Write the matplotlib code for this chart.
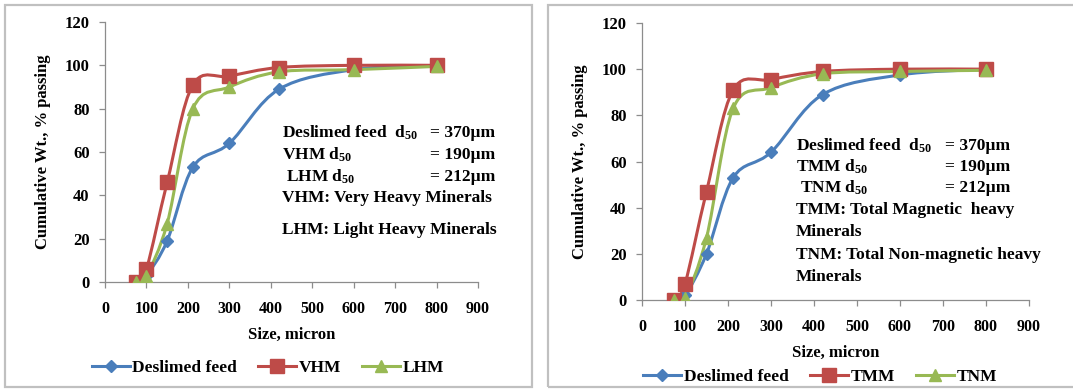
import numpy as np
import matplotlib
matplotlib.use("Agg")
import matplotlib.pyplot as plt
from matplotlib.path import Path
from matplotlib.patches import PathPatch, Rectangle
from matplotlib.lines import Line2D

plt.rcParams["font.family"] = "Liberation Serif"
plt.rcParams["font.weight"] = "bold"
plt.rcParams["mathtext.fontset"] = "custom"
plt.rcParams["mathtext.rm"] = "Liberation Serif:bold"
plt.rcParams["mathtext.it"] = "Liberation Serif:bold"
plt.rcParams["mathtext.bf"] = "Liberation Serif:bold"

W, H = 1073, 391

# sieve sizes (micron)
size = [75, 100, 150, 212, 300, 420, 600, 800]

# left panel
feed_l = [0, 3, 19, 53, 64, 89, 98, 100]
vhm = [0, 6, 46, 91, 95, 99, 100, 100]
lhm = [0, 3, 27, 80, 90, 97, 98, 99.5]

# right panel
feed_r = [0, 2, 20, 53, 64, 89, 97.5, 100]
tmm = [0, 7, 47, 91, 95.5, 99, 100, 100]
tnm = [0, 1, 27, 83, 92, 98, 99, 99.5]

left_names = ["Deslimed feed", "VHM", "LHM"]
right_names = ["Deslimed feed", "TMM", "TNM"]

COLORS = ["#4a7ebb", "#be4b48", "#98b954"]
MARKERS = ["D", "s", "^"]
MSIZES = [6, 9.5, 8]


def smooth_path(x, y):
    # Excel-style smoothed line: cubic Bezier segments through the data points
    x = np.asarray(x, float)
    y = np.asarray(y, float)
    n = len(x)
    verts = [(x[0], y[0])]
    codes = [Path.MOVETO]
    for i in range(n - 1):
        p0 = np.array([x[max(i - 1, 0)], y[max(i - 1, 0)]])
        p1 = np.array([x[i], y[i]])
        p2 = np.array([x[i + 1], y[i + 1]])
        p3 = np.array([x[min(i + 2, n - 1)], y[min(i + 2, n - 1)]])
        c1 = p1 + (p2 - p0) / 6.0
        c2 = p2 - (p3 - p1) / 6.0
        verts += [tuple(c1), tuple(c2), tuple(p2)]
        codes += [Path.CURVE4] * 3
    return Path(verts, codes)


def px_ax(fig, x0, y0, x1, y1):
    return fig.add_axes([x0 / W, 1 - y1 / H, (x1 - x0) / W, (y1 - y0) / H])


def draw_panel(ax, series, names):
    for ys, c, m, ms in zip(series, COLORS, MARKERS, MSIZES):
        ax.add_patch(PathPatch(smooth_path(size, ys), facecolor="none",
                               edgecolor=c, lw=2.2, zorder=2))
        ax.plot(size, ys, linestyle="none", marker=m, ms=ms, color=c,
                mec=c, zorder=3)
    ax.set_xlim(0, 900)
    ax.set_ylim(0, 120)
    ax.set_xticks(range(0, 901, 100))
    ax.set_yticks(range(0, 121, 20))
    for s in ["top", "right"]:
        ax.spines[s].set_visible(False)
    for s in ["left", "bottom"]:
        ax.spines[s].set_color("#8c8c8c")
        ax.spines[s].set_linewidth(0.9)
    ax.tick_params(axis="both", colors="#8c8c8c", labelcolor="black",
                   length=4, width=0.9)
    ax.tick_params(axis="x", pad=10, labelsize=11.5)
    ax.tick_params(axis="y", pad=7, labelsize=12)
    ax.set_xlabel("Size, micron", fontsize=12, fontweight="bold", labelpad=7)
    ax.set_ylabel("Cumulative Wt., % passing", fontsize=12,
                  fontweight="bold", labelpad=10)
    handles = [Line2D([], [], color=c, marker=m, ms=ms, lw=2.2)
               for c, m, ms in zip(COLORS, MARKERS, MSIZES)]
    return handles


fig = plt.figure(figsize=(W / 100, H / 100), dpi=100)

# panel frames
fig.add_artist(Rectangle((5 / W, 1 - 387 / H), 527 / W, 382 / H,
                         transform=fig.transFigure, fill=False,
                         edgecolor="#c0c0c0", lw=1.6))
fig.add_artist(Rectangle((548 / W, 1 - 387 / H), 540 / W, 382 / H,
                         transform=fig.transFigure, fill=False,
                         edgecolor="#c0c0c0", lw=1.6))

ax1 = px_ax(fig, 105, 22, 478, 282)
h1 = draw_panel(ax1, [feed_l, vhm, lhm], left_names)
fig.legend(h1, left_names, loc="center", bbox_to_anchor=(268 / W, 1 - 368 / H),
           ncol=3, frameon=False, prop={"size": 12.5, "weight": "bold"},
           handlelength=2.2, columnspacing=1.2, handletextpad=0.15)

ax2 = px_ax(fig, 642, 23, 1029, 300)
h2 = draw_panel(ax2, [feed_r, tmm, tnm], right_names)
fig.legend(h2, right_names, loc="center", bbox_to_anchor=(820 / W, 1 - 377 / H),
           ncol=3, frameon=False, prop={"size": 12.5, "weight": "bold"},
           handlelength=2.2, columnspacing=1.2, handletextpad=0.15)

FS = 12.5


def put(x, y, s):
    fig.text(x / W, 1 - y / H, s, fontsize=FS, fontweight="bold",
             ha="left", va="center")


# left annotations
put(282, 133, r"Deslimed feed  d$_{50}$")
put(430, 133, "= 370µm")
put(282, 155, r"VHM d$_{50}$")
put(430, 155, "= 190µm")
put(286, 177, r"LHM d$_{50}$")
put(430, 177, "= 212µm")
put(282, 198, "VHM: Very Heavy Minerals")
put(282, 230, "LHM: Light Heavy Minerals")

# right annotations
put(796, 146, r"Deslimed feed  d$_{50}$")
put(945, 146, "= 370µm")
put(796, 167, r"TMM d$_{50}$")
put(945, 167, "= 190µm")
put(800, 188, r"TNM d$_{50}$")
put(945, 188, "= 212µm")
put(796, 210, "TMM: Total Magnetic  heavy")
put(796, 232, "Minerals")
put(796, 255, "TNM: Total Non-magnetic heavy")
put(796, 277, "Minerals")

fig.savefig("out.png", dpi=100)
